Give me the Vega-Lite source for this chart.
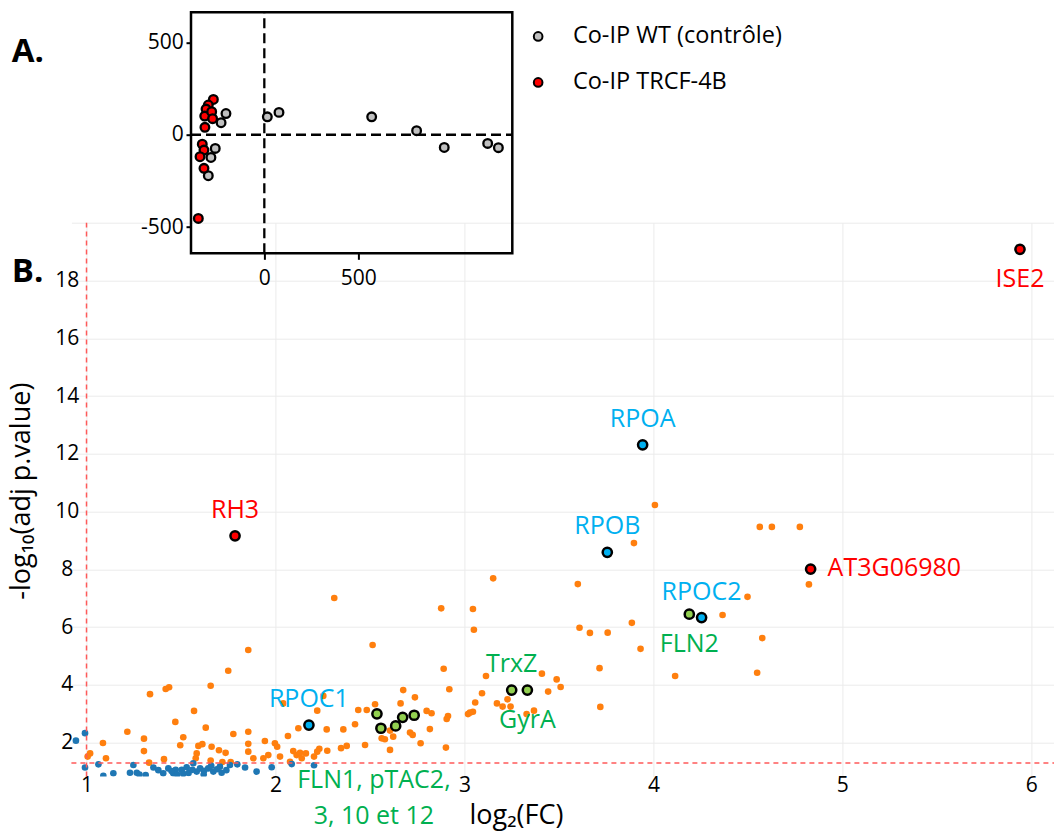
{
  "$schema": "https://vega.github.io/schema/vega-lite/v6.json",
  "width": 982.6,
  "height": 553.8,
  "autosize": {"type": "none"},
  "padding": {"left": 71.4, "top": 222.7, "right": 0, "bottom": 58.5},
  "background": "white",
  "config": {"view": {"stroke": null}, "font": "Open Sans"},
  "datasets": {
    "one": [{}],
    "pts": [
      {"x":4.008,"y":10.23,"s":"sig"},{"x":3.897,"y":8.91,"s":"sig"},{"x":4.563,"y":9.47,"s":"sig"},{"x":4.627,"y":9.47,"s":"sig"},{"x":4.775,"y":9.47,"s":"sig"},
      {"x":4.823,"y":7.48,"s":"sig"},{"x":4.498,"y":7.05,"s":"sig"},{"x":3.152,"y":7.69,"s":"sig"},{"x":3.6,"y":7.49,"s":"sig"},{"x":2.311,"y":7.01,"s":"sig"},
      {"x":2.877,"y":6.65,"s":"sig"},{"x":3.045,"y":6.63,"s":"sig"},{"x":3.05,"y":5.91,"s":"sig"},{"x":3.609,"y":5.98,"s":"sig"},{"x":3.664,"y":5.8,"s":"sig"},
      {"x":3.758,"y":5.81,"s":"sig"},{"x":3.886,"y":6.15,"s":"sig"},{"x":3.932,"y":5.25,"s":"sig"},{"x":4.366,"y":6.42,"s":"sig"},{"x":4.576,"y":5.62,"s":"sig"},
      {"x":4.549,"y":4.42,"s":"sig"},{"x":4.115,"y":4.31,"s":"sig"},{"x":3.715,"y":4.58,"s":"sig"},{"x":3.719,"y":3.24,"s":"sig"},{"x":2.89,"y":4.56,"s":"sig"},
      {"x":2.92,"y":3.85,"s":"sig"},{"x":3.114,"y":4.31,"s":"sig"},{"x":3.093,"y":3.71,"s":"sig"},{"x":3.057,"y":3.39,"s":"sig"},{"x":3.045,"y":3.07,"s":"sig"},
      {"x":3.019,"y":2.99,"s":"sig"},{"x":2.906,"y":2.82,"s":"sig"},{"x":2.913,"y":2.92,"s":"sig"},{"x":2.902,"y":1.83,"s":"sig"},{"x":3.172,"y":3.36,"s":"sig"},
      {"x":3.202,"y":3.25,"s":"sig"},{"x":3.228,"y":3.5,"s":"sig"},{"x":3.244,"y":3.25,"s":"sig"},{"x":3.329,"y":2.99,"s":"sig"},{"x":3.368,"y":3.11,"s":"sig"},
      {"x":3.41,"y":4.39,"s":"sig"},{"x":3.443,"y":3.77,"s":"sig"},{"x":3.488,"y":4.19,"s":"sig"},{"x":3.509,"y":3.93,"s":"sig"},
      {"x":2.514,"y":5.38,"s":"sig"},{"x":1.856,"y":5.21,"s":"sig"},
      {"x":1.75,"y":4.49,"s":"sig"},{"x":1.657,"y":3.97,"s":"sig"},{"x":1.437,"y":3.92,"s":"sig"},{"x":1.419,"y":3.86,"s":"sig"},{"x":1.336,"y":3.68,"s":"sig"},
      {"x":1.569,"y":3.1,"s":"sig"},{"x":1.47,"y":2.72,"s":"sig"},{"x":1.631,"y":2.52,"s":"sig"},{"x":1.777,"y":2.3,"s":"sig"},{"x":1.856,"y":2.38,"s":"sig"},
      {"x":1.216,"y":2.38,"s":"sig"},{"x":1.304,"y":2.14,"s":"sig"},{"x":1.512,"y":2.19,"s":"sig"},{"x":1.087,"y":1.99,"s":"sig"},{"x":1.496,"y":1.91,"s":"sig"},
      {"x":1.592,"y":1.89,"s":"sig"},{"x":1.613,"y":1.95,"s":"sig"},{"x":1.662,"y":1.86,"s":"sig"},{"x":1.856,"y":1.96,"s":"sig"},{"x":1.304,"y":1.71,"s":"sig"},
      {"x":1.103,"y":1.46,"s":"sig"},{"x":1.019,"y":1.63,"s":"sig"},{"x":1.006,"y":1.52,"s":"sig"},{"x":1.41,"y":1.43,"s":"sig"},{"x":1.331,"y":1.31,"s":"sig"},
      {"x":1.583,"y":1.63,"s":"sig"},{"x":1.578,"y":1.46,"s":"sig"},{"x":1.701,"y":1.74,"s":"sig"},{"x":1.736,"y":1.65,"s":"sig"},{"x":1.657,"y":1.38,"s":"sig"},
      {"x":1.719,"y":1.33,"s":"sig"},{"x":1.763,"y":1.33,"s":"sig"},{"x":1.856,"y":1.69,"s":"sig"},
      {"x":2.253,"y":3.62,"s":"sig"},{"x":2.041,"y":3.36,"s":"sig"},{"x":2.221,"y":3.11,"s":"sig"},{"x":2.676,"y":3.82,"s":"sig"},{"x":2.738,"y":3.57,"s":"sig"},
      {"x":2.527,"y":3.33,"s":"sig"},{"x":2.662,"y":3.36,"s":"sig"},{"x":2.438,"y":3.13,"s":"sig"},{"x":2.483,"y":3.13,"s":"sig"},{"x":2.8,"y":3.1,"s":"sig"},
      {"x":2.826,"y":3.02,"s":"sig"},{"x":3.029,"y":3.04,"s":"sig"},{"x":2.121,"y":2.5,"s":"sig"},{"x":2.271,"y":2.46,"s":"sig"},{"x":2.359,"y":2.46,"s":"sig"},
      {"x":2.421,"y":2.64,"s":"sig"},{"x":2.562,"y":2.15,"s":"sig"},{"x":2.579,"y":2.12,"s":"sig"},{"x":2.606,"y":2.42,"s":"sig"},{"x":2.623,"y":2.21,"s":"sig"},
      {"x":2.712,"y":2.35,"s":"sig"},{"x":2.726,"y":2.27,"s":"sig"},{"x":2.817,"y":2.47,"s":"sig"},{"x":2.768,"y":1.98,"s":"sig"},{"x":2.606,"y":1.75,"s":"sig"},
      {"x":2.474,"y":1.92,"s":"sig"},{"x":2.377,"y":1.89,"s":"sig"},{"x":2.347,"y":1.81,"s":"sig"},{"x":2.274,"y":1.72,"s":"sig"},{"x":2.232,"y":1.79,"s":"sig"},
      {"x":2.221,"y":1.69,"s":"sig"},{"x":2.066,"y":2.23,"s":"sig"},{"x":1.997,"y":1.98,"s":"sig"},{"x":2.009,"y":1.86,"s":"sig"},{"x":1.944,"y":2.06,"s":"sig"},
      {"x":1.883,"y":1.46,"s":"sig"},{"x":1.936,"y":1.46,"s":"sig"},{"x":1.962,"y":1.57,"s":"sig"},{"x":2.024,"y":1.52,"s":"sig"},{"x":2.077,"y":1.34,"s":"sig"},
      {"x":2.094,"y":1.71,"s":"sig"},{"x":2.112,"y":1.57,"s":"sig"},{"x":2.13,"y":1.65,"s":"sig"},{"x":2.139,"y":1.46,"s":"sig"},{"x":2.161,"y":1.63,"s":"sig"},
      {"x":2.204,"y":1.52,"s":"sig"},
      {"x":0.944,"y":2.07,"s":"ns"},{"x":0.992,"y":2.33,"s":"ns"},{"x":0.992,"y":1.14,"s":"ns"},{"x":1.063,"y":1.25,"s":"ns"},{"x":1.089,"y":0.85,"s":"ns"},
      {"x":1.142,"y":0.94,"s":"ns"},{"x":1.23,"y":0.96,"s":"ns"},{"x":1.248,"y":1.23,"s":"ns"},{"x":1.266,"y":0.96,"s":"ns"},{"x":1.313,"y":0.88,"s":"ns"},
      {"x":1.354,"y":1.14,"s":"ns"},{"x":1.406,"y":0.94,"s":"ns"},{"x":1.433,"y":1.11,"s":"ns"},{"x":1.459,"y":0.94,"s":"ns"},{"x":1.472,"y":1.06,"s":"ns"},
      {"x":1.504,"y":1.06,"s":"ns"},{"x":1.512,"y":0.92,"s":"ns"},{"x":1.53,"y":1.15,"s":"ns"},{"x":1.565,"y":1.29,"s":"ns"},{"x":1.583,"y":1.0,"s":"ns"},
      {"x":1.601,"y":1.11,"s":"ns"},{"x":1.622,"y":1.03,"s":"ns"},{"x":1.644,"y":1.11,"s":"ns"},{"x":1.671,"y":1.0,"s":"ns"},{"x":1.706,"y":1.17,"s":"ns"},
      {"x":1.715,"y":0.96,"s":"ns"},{"x":1.759,"y":1.23,"s":"ns"},{"x":1.798,"y":1.25,"s":"ns"},{"x":1.839,"y":1.14,"s":"ns"},{"x":1.9,"y":1.0,"s":"ns"},
      {"x":1.98,"y":1.15,"s":"ns"},{"x":2.086,"y":1.26,"s":"ns"},{"x":2.204,"y":1.22,"s":"ns"},
      {"x":1.48,"y":0.9,"s":"ns"},{"x":1.54,"y":0.95,"s":"ns"},{"x":1.62,"y":0.9,"s":"ns"},{"x":1.69,"y":1.08,"s":"ns"},{"x":1.45,"y":1.02,"s":"ns"},
      {"x":1.56,"y":1.06,"s":"ns"},{"x":1.38,"y":1.05,"s":"ns"},{"x":1.74,"y":1.05,"s":"ns"},{"x":1.66,"y":1.2,"s":"ns"},{"x":1.28,"y":0.9,"s":"ns"}
    ],
    "hl": [
      {"x":2.537,"y":3.0,"grp":"green","label":""},
      {"x":2.558,"y":2.5,"grp":"green","label":"FLN1, pTAC2,\n3, 10 et 12"},
      {"x":2.636,"y":2.58,"grp":"green","label":""},
      {"x":2.673,"y":2.88,"grp":"green","label":""},
      {"x":2.734,"y":2.95,"grp":"green","label":""},
      {"x":4.19,"y":6.45,"grp":"green","label":"FLN2"},
      {"x":3.25,"y":3.82,"grp":"green","label":"TrxZ"},
      {"x":3.333,"y":3.82,"grp":"green","label":"GyrA"},
      {"x":3.943,"y":12.31,"grp":"blue","label":"RPOA"},
      {"x":3.756,"y":8.59,"grp":"blue","label":"RPOB"},
      {"x":4.255,"y":6.33,"grp":"blue","label":"RPOC2"},
      {"x":2.177,"y":2.61,"grp":"blue","label":"RPOC1"},
      {"x":5.94,"y":19.08,"grp":"red","label":"ISE2"},
      {"x":1.786,"y":9.16,"grp":"red","label":"RH3"},
      {"x":4.832,"y":8.01,"grp":"red","label":"AT3G06980"}
    ],
    "inset": [
      {"x":-204,"y":115,"grp":"Co-IP WT (contrôle)"},{"x":-230,"y":65,"grp":"Co-IP WT (contrôle)"},{"x":-261,"y":-74,"grp":"Co-IP WT (contrôle)"},
      {"x":-284,"y":-123,"grp":"Co-IP WT (contrôle)"},{"x":-298,"y":-222,"grp":"Co-IP WT (contrôle)"},{"x":16,"y":97,"grp":"Co-IP WT (contrôle)"},
      {"x":78,"y":121,"grp":"Co-IP WT (contrôle)"},{"x":571,"y":97,"grp":"Co-IP WT (contrôle)"},{"x":810,"y":22,"grp":"Co-IP WT (contrôle)"},
      {"x":957,"y":-69,"grp":"Co-IP WT (contrôle)"},{"x":1188,"y":-47,"grp":"Co-IP WT (contrôle)"},{"x":1245,"y":-70,"grp":"Co-IP WT (contrôle)"},
      {"x":-271,"y":191,"grp":"Co-IP TRCF-4B"},{"x":-298,"y":161,"grp":"Co-IP TRCF-4B"},{"x":-310,"y":139,"grp":"Co-IP TRCF-4B"},
      {"x":-317,"y":101,"grp":"Co-IP TRCF-4B"},{"x":-280,"y":125,"grp":"Co-IP TRCF-4B"},{"x":-275,"y":87,"grp":"Co-IP TRCF-4B"},
      {"x":-316,"y":40,"grp":"Co-IP TRCF-4B"},{"x":-330,"y":-51,"grp":"Co-IP TRCF-4B"},{"x":-321,"y":-83,"grp":"Co-IP TRCF-4B"},
      {"x":-342,"y":-119,"grp":"Co-IP TRCF-4B"},{"x":-321,"y":-182,"grp":"Co-IP TRCF-4B"},{"x":-351,"y":-453,"grp":"Co-IP TRCF-4B"}
    ]
  },
  "layer": [
    {
      "data": {"name": "pts"},
      "mark": {"type": "circle", "size": 44, "opacity": 1, "clip": true},
      "encoding": {
        "x": {"field": "x", "type": "quantitative",
          "scale": {"domain": [0.92, 6.12], "nice": false, "zero": false},
          "axis": {"orient": "bottom", "title": "log₂(FC)", "values": [1,2,3,4,5,6], "grid": true, "gridColor": "#ebebeb", "gridWidth": 1,
            "domain": false, "ticks": false, "labelFontSize": 21, "labelColor": "black", "labelPadding": -2,
            "labelFlush": false, "labelOverlap": false, "titleFontSize": 27, "titleFontWeight": "normal", "titleColor": "black",
            "titleX": 444.6, "titlePadding": 7}},
        "y": {"field": "y", "type": "quantitative",
          "scale": {"domain": [0.83, 20], "nice": false, "zero": false},
          "axis": {"orient": "left", "title": "-log₁₀(adj p.value)", "values": [2,4,6,8,10,12,14,16,18,20],
            "labelExpr": "datum.value == 20 ? '' : datum.label", "grid": true, "gridColor": "#ebebeb", "gridWidth": 1,
            "domain": false, "ticks": false, "labelFontSize": 21, "labelColor": "black", "labelAlign": "center",
            "labelBaseline": "middle", "labelPadding": 4.7, "labelFlush": false, "labelOverlap": false,
            "titleFontSize": 27, "titleFontWeight": "normal", "titleColor": "black", "titleX": -36, "titleY": 268, "titleBaseline": "bottom"}},
        "fill": {"field": "s", "type": "nominal", "scale": {"domain": ["ns", "sig"], "range": ["#1f77b4", "#ff7f0e"]}, "legend": null}
      }
    },
    {
      "data": {"name": "one"},
      "mark": {"type": "rule", "color": "#ff5a5a", "strokeWidth": 1.5, "strokeDash": [5, 4]},
      "encoding": {
        "x": {"datum": 1, "type": "quantitative", "scale": {"domain": [0.92, 6.12], "nice": false, "zero": false}, "axis": null},
        "y": {"datum": 0.83, "type": "quantitative", "scale": {"domain": [0.83, 20], "nice": false, "zero": false}, "axis": null},
        "y2": {"datum": 20}
      }
    },
    {
      "data": {"name": "one"},
      "mark": {"type": "rule", "color": "#ff5a5a", "strokeWidth": 1.5, "strokeDash": [5, 4]},
      "encoding": {
        "x": {"datum": 0.92, "type": "quantitative", "scale": {"domain": [0.92, 6.12], "nice": false, "zero": false}, "axis": null},
        "x2": {"datum": 6.12},
        "y": {"datum": 1.301, "type": "quantitative", "scale": {"domain": [0.83, 20], "nice": false, "zero": false}, "axis": null}
      }
    },
    {
      "data": {"name": "hl"},
      "mark": {"type": "circle", "size": 85, "opacity": 1, "stroke": "black", "strokeWidth": 2.5},
      "encoding": {
        "x": {"field": "x", "type": "quantitative", "scale": {"domain": [0.92, 6.12], "nice": false, "zero": false}, "axis": null},
        "y": {"field": "y", "type": "quantitative", "scale": {"domain": [0.83, 20], "nice": false, "zero": false}, "axis": null},
        "fill": {"condition": [{"test": "datum.grp === 'red'", "value": "#ff0000"}, {"test": "datum.grp === 'blue'", "value": "#00b0f0"}], "value": "#92d050"}
      }
    },
    {
      "data": {"name": "hl"},
      "transform": [{"filter": "indexof(['RH3','RPOA','RPOB','RPOC2','TrxZ','RPOC1'], datum.label) >= 0"}],
      "mark": {"type": "text", "fontSize": 25, "dy": -26, "align": "center", "baseline": "middle"},
      "encoding": {
        "x": {"field": "x", "type": "quantitative", "scale": {"domain": [0.92, 6.12], "nice": false, "zero": false}, "axis": null},
        "y": {"field": "y", "type": "quantitative", "scale": {"domain": [0.83, 20], "nice": false, "zero": false}, "axis": null},
        "text": {"field": "label"},
        "color": {"condition": [{"test": "datum.grp === 'red'", "value": "#ff0000"}, {"test": "datum.grp === 'blue'", "value": "#00b0f0"}], "value": "#00b050"}
      }
    },
    {
      "data": {"name": "hl"},
      "transform": [{"filter": "indexof(['ISE2','FLN2','GyrA'], datum.label) >= 0"}],
      "mark": {"type": "text", "fontSize": 25, "dy": 30, "align": "center", "baseline": "middle"},
      "encoding": {
        "x": {"field": "x", "type": "quantitative", "scale": {"domain": [0.92, 6.12], "nice": false, "zero": false}, "axis": null},
        "y": {"field": "y", "type": "quantitative", "scale": {"domain": [0.83, 20], "nice": false, "zero": false}, "axis": null},
        "text": {"field": "label"},
        "color": {"condition": [{"test": "datum.grp === 'red'", "value": "#ff0000"}, {"test": "datum.grp === 'blue'", "value": "#00b0f0"}], "value": "#00b050"}
      }
    },
    {
      "data": {"name": "hl"},
      "transform": [{"filter": "datum.label === 'AT3G06980'"}],
      "mark": {"type": "text", "fontSize": 25, "dx": 17, "dy": -1, "align": "left", "baseline": "middle", "color": "#ff0000"},
      "encoding": {
        "x": {"field": "x", "type": "quantitative", "scale": {"domain": [0.92, 6.12], "nice": false, "zero": false}, "axis": null},
        "y": {"field": "y", "type": "quantitative", "scale": {"domain": [0.83, 20], "nice": false, "zero": false}, "axis": null},
        "text": {"field": "label"}
      }
    },
    {
      "data": {"name": "hl"},
      "transform": [{"filter": "indexof(datum.label, 'FLN1') === 0"}],
      "mark": {"type": "text", "fontSize": 25, "dx": -7, "dy": 52, "align": "center", "baseline": "middle", "lineBreak": "\n", "lineHeight": 36, "color": "#00b050"},
      "encoding": {
        "x": {"field": "x", "type": "quantitative", "scale": {"domain": [0.92, 6.12], "nice": false, "zero": false}, "axis": null},
        "y": {"field": "y", "type": "quantitative", "scale": {"domain": [0.83, 20], "nice": false, "zero": false}, "axis": null},
        "text": {"field": "label"}
      }
    },
    {
      "data": {"name": "one"},
      "mark": {"type": "text", "fontSize": 33, "fontWeight": "bold", "align": "center", "baseline": "middle", "color": "black"},
      "encoding": {
        "x": {"datum": 0.688, "type": "quantitative", "scale": {"domain": [0.92, 6.12], "nice": false, "zero": false}, "axis": null},
        "y": {"datum": 18.29, "type": "quantitative", "scale": {"domain": [0.83, 20], "nice": false, "zero": false}, "axis": null},
        "text": {"value": "B."}
      }
    },
    {
      "data": {"name": "one"},
      "mark": {"type": "text", "fontSize": 33, "fontWeight": "bold", "align": "center", "baseline": "middle", "color": "black"},
      "encoding": {
        "x": {"datum": 0.69, "type": "quantitative", "scale": {"domain": [0.92, 6.12], "nice": false, "zero": false}, "axis": null},
        "y": {"datum": 25.91, "type": "quantitative", "scale": {"domain": [0.83, 20], "nice": false, "zero": false}, "axis": null},
        "text": {"value": "A."}
      }
    },
    {
      "data": {"name": "one"},
      "mark": {"type": "rect", "fillOpacity": 0, "stroke": "black", "strokeWidth": 2.5},
      "encoding": {
        "x": {"datum": -390, "type": "quantitative",
          "scale": {"domain": [-390, 1319], "range": [119.6, 440.9], "nice": false, "zero": false},
          "axis": {"orient": "bottom", "offset": -523.2, "title": null, "values": [0, 500], "grid": false, "domain": false,
            "ticks": true, "tickSize": 6, "tickColor": "black", "tickWidth": 2, "labelFontSize": 21, "labelColor": "black",
            "labelPadding": 8, "labelFlush": false, "labelOverlap": false}},
        "x2": {"datum": 1319},
        "y": {"datum": -642, "type": "quantitative",
          "scale": {"domain": [-642, 663], "range": [30.6, -210.4], "nice": false, "zero": false},
          "axis": {"orient": "left", "offset": -119.6, "title": null, "values": [-500, 0, 500], "grid": false, "domain": false,
            "labelExpr": "datum.value < 0 ? '-' + abs(datum.value) : datum.label",
            "ticks": true, "tickSize": 5, "tickColor": "black", "tickWidth": 2, "labelFontSize": 21, "labelColor": "black",
            "labelPadding": 2.7, "labelFlush": false, "labelOverlap": false}},
        "y2": {"datum": 663}
      }
    },
    {
      "data": {"name": "one"},
      "mark": {"type": "rule", "color": "black", "strokeWidth": 2.3, "strokeDash": [10, 5]},
      "encoding": {
        "x": {"datum": 0, "type": "quantitative", "scale": {"domain": [-390, 1319], "range": [119.6, 440.9], "nice": false, "zero": false}, "axis": null},
        "y": {"datum": -642, "type": "quantitative", "scale": {"domain": [-642, 663], "range": [30.6, -210.4], "nice": false, "zero": false}, "axis": null},
        "y2": {"datum": 663}
      }
    },
    {
      "data": {"name": "one"},
      "mark": {"type": "rule", "color": "black", "strokeWidth": 2.3, "strokeDash": [10, 5]},
      "encoding": {
        "x": {"datum": -390, "type": "quantitative", "scale": {"domain": [-390, 1319], "range": [119.6, 440.9], "nice": false, "zero": false}, "axis": null},
        "x2": {"datum": 1319},
        "y": {"datum": 0, "type": "quantitative", "scale": {"domain": [-642, 663], "range": [30.6, -210.4], "nice": false, "zero": false}, "axis": null}
      }
    },
    {
      "data": {"name": "inset"},
      "mark": {"type": "circle", "size": 75, "opacity": 1, "stroke": "black", "strokeWidth": 2.3},
      "encoding": {
        "x": {"field": "x", "type": "quantitative", "scale": {"domain": [-390, 1319], "range": [119.6, 440.9], "nice": false, "zero": false}, "axis": null},
        "y": {"field": "y", "type": "quantitative", "scale": {"domain": [-642, 663], "range": [30.6, -210.4], "nice": false, "zero": false}, "axis": null},
        "fill": {"field": "grp", "type": "nominal",
          "scale": {"domain": ["Co-IP WT (contrôle)", "Co-IP TRCF-4B"], "range": ["#c0c0c0", "#ff0000"]},
          "legend": {"orient": "none", "legendX": 455, "legendY": -198, "title": null, "labelFontSize": 23.5, "labelColor": "black",
            "labelLimit": 400, "symbolSize": 75, "symbolStrokeColor": "black", "symbolStrokeWidth": 2, "symbolType": "circle",
            "rowPadding": 21, "labelOffset": 23}}
      }
    }
  ],
  "resolve": {
    "scale": {"x": "independent", "y": "independent", "fill": "independent", "color": "independent"},
    "axis": {"x": "independent", "y": "independent"},
    "legend": {"fill": "independent"}
  }
}
